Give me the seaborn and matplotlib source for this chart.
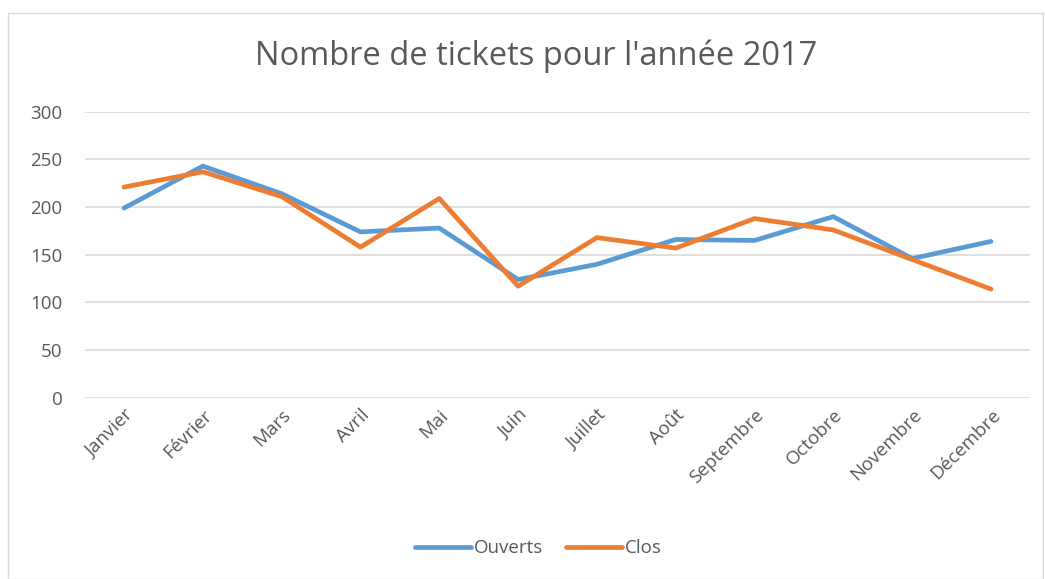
import pandas as pd
import matplotlib
matplotlib.use("Agg")
import matplotlib.pyplot as plt
import seaborn as sns
from matplotlib.patches import Rectangle
from matplotlib.lines import Line2D

mois = ["Janvier", "Février", "Mars", "Avril", "Mai", "Juin", "Juillet",
        "Août", "Septembre", "Octobre", "Novembre", "Décembre"]
ouverts = [199, 243, 214, 174, 178, 124, 140, 166, 165, 190, 146, 164]
clos = [221, 237, 211, 158, 209, 117, 168, 157, 188, 176, 145, 114]

df = pd.DataFrame({"mois": mois * 2,
                   "tickets": ouverts + clos,
                   "serie": ["Ouverts"] * 12 + ["Clos"] * 12})

sns.set_style("white")
plt.rcParams['font.family'] = ['Open Sans', 'DejaVu Sans']

fig = plt.figure(figsize=(10.45, 5.79), dpi=100)
ax = fig.add_axes([0.081, 0.313, 0.905, 0.494])

sns.lineplot(data=df, x="mois", y="tickets", hue="serie", sort=False,
             palette={"Ouverts": "#5B9BD5", "Clos": "#ED7D31"},
             linewidth=3.4, ax=ax, legend=False)
for l in ax.lines:
    l.set_solid_capstyle("round")

ax.set_ylim(0, 300)
ax.set_xlim(-0.5, 11.5)
ax.set_yticks(range(0, 301, 50))
ax.grid(axis="y", color="#d9d9d9", linewidth=1.2)
ax.set_axisbelow(True)
for s in ax.spines.values():
    s.set_visible(False)
ax.set_xlabel("")
ax.set_ylabel("")
ax.tick_params(axis="both", length=0, labelsize=13.5, labelcolor="#595959")
ax.tick_params(axis="y", pad=16)
ax.tick_params(axis="x", pad=6)
plt.setp(ax.get_xticklabels(), rotation=45, ha="right", rotation_mode="anchor")

fig.text(0.513, 0.902, "Nombre de tickets pour l'année 2017", ha="center", va="center",
         fontsize=23.5, color="#595959")

handles = [Line2D([], [], color="#5B9BD5", lw=3.4, solid_capstyle="round"),
           Line2D([], [], color="#ED7D31", lw=3.4, solid_capstyle="round")]
fig.legend(handles, ["Ouverts", "Clos"], loc="center", bbox_to_anchor=(0.515, 0.053),
           ncol=2, frameon=False, fontsize=13.5, labelcolor="#595959",
           handlelength=3.0, handletextpad=0.15, columnspacing=1.2)

fig.patches.append(Rectangle((0.008, 0.0), 0.99, 0.978, transform=fig.transFigure,
                             fill=False, edgecolor="#d9d9d9", linewidth=1))

fig.savefig("out.png", dpi=100)
